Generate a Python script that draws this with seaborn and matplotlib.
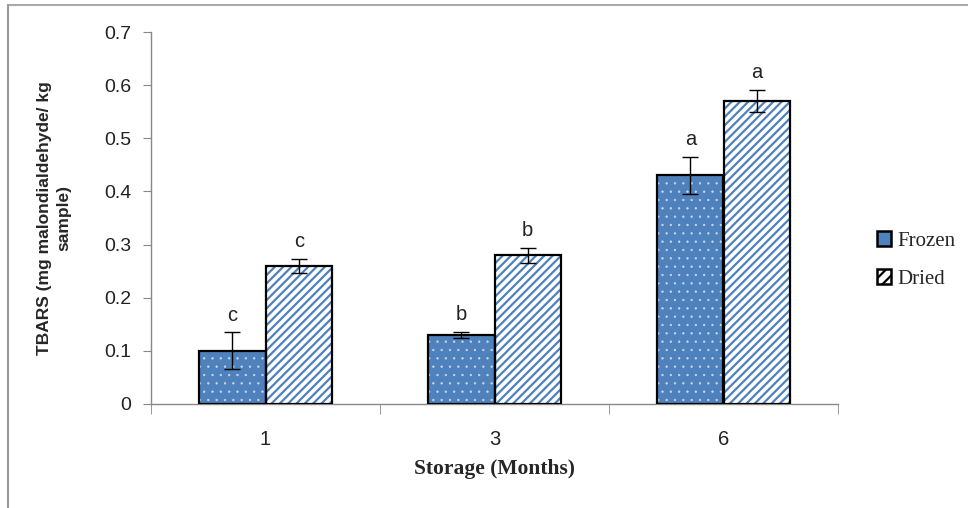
import matplotlib
matplotlib.use("Agg")
from matplotlib import pyplot as plt
from matplotlib.patches import Rectangle, Patch
from matplotlib.lines import Line2D
import pandas as pd
import seaborn as sns
import numpy as np

# hodnoty
months = ["1", "3", "6"]
groups = ["Frozen", "Dried"]
frozen = [0.10, 0.13, 0.43]
dried = [0.26, 0.28, 0.57]
frozen_err = [0.035, 0.006, 0.035]
dried_err = [0.013, 0.014, 0.021]
frozen_letters = ["c", "b", "a"]
dried_letters = ["c", "b", "a"]

blue = "#4F81BD"

df = pd.DataFrame({
    "month": months * 2,
    "group": [groups[0]] * 3 + [groups[1]] * 3,
    "value": frozen + dried,
})

sns.set_style("white")
plt.rcParams['font.family'] = ['Liberation Sans', 'DejaVu Sans']
plt.rcParams['hatch.linewidth'] = 1.6

fig = plt.figure(figsize=(9.68, 5.08), dpi=100)
ax = fig.add_axes([151 / 968, 1 - 404 / 508, 687 / 968, 372 / 508])

sns.barplot(data=df, x="month", y="value", hue="group", order=months,
            hue_order=groups, width=0.58, gap=0, errorbar=None,
            palette=[blue, "white"], legend=False, ax=ax)

errs = [frozen_err, dried_err]
vals = [frozen, dried]
letters = [frozen_letters, dried_letters]
hatches = ["..", "////"]
bar_containers = list(ax.containers)[:2]
for i, c in enumerate(bar_containers):
    for j, bar in enumerate(c):
        if i == 0:
            bar.set_facecolor(blue)
            bar.set_edgecolor("#c9d8ee")
        else:
            bar.set_facecolor("white")
            bar.set_edgecolor(blue)
        bar.set_hatch(hatches[i])
        if i == 0 and hasattr(bar, "set_hatch_linewidth"):
            bar.set_hatch_linewidth(0.45)
        bar.set_linewidth(0)
        x0, w, h = bar.get_x(), bar.get_width(), bar.get_height()
        ax.add_patch(Rectangle((x0, 0), w, h, fill=False, edgecolor="black",
                               linewidth=1.6, zorder=3))
        xc = x0 + w / 2
        ax.errorbar(xc, vals[i][j], yerr=errs[i][j], color="black",
                    capsize=6, elinewidth=1, capthick=1, zorder=4)
        ax.text(xc, vals[i][j] + errs[i][j] + 0.014, letters[i][j],
                ha="center", va="bottom", fontsize=14.5, color="#222222")

ax.set_ylim(0, 0.7)
ax.set_xlim(-0.5, 2.5)
ax.set_yticks(np.arange(0, 0.71, 0.1))
ax.set_yticklabels(["0"] + [f"{v:.1f}" for v in np.arange(0.1, 0.71, 0.1)])
ax.tick_params(axis="y", labelsize=14, length=6, color="#888888",
               direction="out", left=True, pad=8, labelcolor="#222222")
ax.tick_params(axis="x", labelsize=14.5, length=0, pad=19,
               labelcolor="#222222")
ax.set_xticks([0, 1, 2])
ax.set_xticks([-0.5, 0.5, 1.5, 2.5], minor=True)
ax.tick_params(axis="x", which="minor", length=7, color="#888888",
               direction="out", bottom=True)
for s in ["top", "right"]:
    ax.spines[s].set_visible(False)
for s in ["left", "bottom"]:
    ax.spines[s].set_color("#888888")
    ax.spines[s].set_linewidth(1)

ax.set_ylabel("TBARS (mg malondialdehyde/ kg\nsample)", fontsize=12.5,
              fontweight="bold", labelpad=24, linespacing=1.35)
ax.set_xlabel("Storage (Months)", fontsize=15.5, fontweight="bold",
              family=["Liberation Serif", "DejaVu Serif"], labelpad=7)

handles = [Patch(facecolor=blue, edgecolor="black", linewidth=1.8),
           Patch(facecolor="white", edgecolor="black", linewidth=1.8,
                 hatch="///")]
fig.legend(handles, groups, loc="center left",
           bbox_to_anchor=(858 / 968, 1 - 260 / 508), frameon=False,
           prop={"family": ["Liberation Serif", "DejaVu Serif"], "size": 15},
           handlelength=0.7, handleheight=0.7, handletextpad=0.3,
           labelspacing=0.9)

# ramecek okolo obrazku
fig.add_artist(Line2D([8 / 968, 1], [1 - 5 / 508, 1 - 5 / 508],
                      color="#aaaaaa", linewidth=1.5))
fig.add_artist(Line2D([8 / 968, 8 / 968], [0, 1 - 5 / 508],
                      color="#999999", linewidth=1.5))

fig.savefig("out.png", dpi=100)
